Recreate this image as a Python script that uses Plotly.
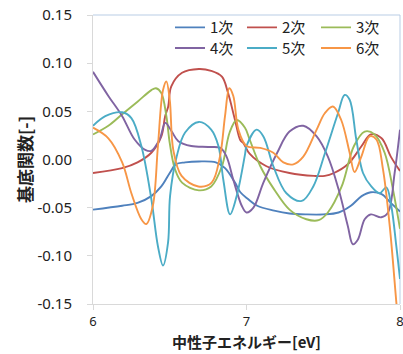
import plotly.graph_objects as go

# ---- data ----
names = ["1次", "2次", "3次", "4次", "5次", "6次"]
colors = ["#4F81BD", "#C0504D", "#9BBB59", "#8064A2", "#4BACC6", "#F79646"]

x1 = [6.00, 6.19, 6.29, 6.38, 6.445, 6.50, 6.54, 6.60, 6.69, 6.80, 6.86, 6.925, 6.96, 7.01, 7.07, 7.18, 7.28, 7.39, 7.50, 7.60, 7.68, 7.75, 7.81, 7.88, 7.94, 8.00]
y1 = [-0.052, -0.048, -0.045, -0.038, -0.028, -0.014, -0.005, -0.003, -0.002, -0.003, -0.009, -0.024, -0.034, -0.041, -0.048, -0.053, -0.056, -0.057, -0.057, -0.055, -0.048, -0.038, -0.034, -0.036, -0.045, -0.054]

x2 = [6.00, 6.19, 6.29, 6.38, 6.445, 6.47, 6.49, 6.51, 6.58, 6.69, 6.77, 6.84, 6.88, 6.925, 6.96, 6.98, 7.02, 7.13, 7.28, 7.44, 7.51, 7.57, 7.66, 7.75, 7.81, 7.88, 7.94, 8.00]
y2 = [-0.014, -0.009, -0.003, 0.007, 0.024, 0.045, 0.055, 0.076, 0.090, 0.094, 0.092, 0.086, 0.069, 0.041, 0.020, 0.017, 0.006, -0.007, -0.014, -0.017, -0.017, -0.014, -0.005, 0.014, 0.026, 0.022, 0.003, -0.012]

x3 = [6.00, 6.10, 6.19, 6.29, 6.38, 6.41, 6.445, 6.478, 6.50, 6.534, 6.58, 6.69, 6.77, 6.84, 6.89, 6.936, 6.99, 7.02, 7.09, 7.18, 7.28, 7.39, 7.47, 7.53, 7.62, 7.70, 7.77, 7.835, 7.90, 7.954, 8.00]
y3 = [0.026, 0.035, 0.047, 0.060, 0.072, 0.074, 0.069, 0.045, 0.017, -0.010, -0.024, -0.032, -0.028, -0.007, 0.028, 0.041, 0.033, 0.021, -0.007, -0.031, -0.052, -0.062, -0.063, -0.055, -0.028, 0.014, 0.029, 0.026, 0.007, -0.031, -0.072]

x4 = [6.00, 6.10, 6.19, 6.27, 6.34, 6.38, 6.434, 6.471, 6.513, 6.556, 6.64, 6.75, 6.83, 6.87, 6.914, 6.969, 7.00, 7.045, 7.11, 7.20, 7.28, 7.37, 7.457, 7.53, 7.60, 7.66, 7.693, 7.726, 7.77, 7.81, 7.878, 7.922, 7.965, 8.00]
y4 = [0.091, 0.066, 0.045, 0.021, 0.010, 0.009, 0.021, 0.038, 0.029, 0.019, 0.014, 0.013, 0.012, 0.003, -0.021, -0.048, -0.055, -0.050, -0.024, 0.007, 0.029, 0.035, 0.024, 0.003, -0.031, -0.069, -0.088, -0.083, -0.062, -0.057, -0.060, -0.055, -0.014, 0.031]

x5 = [6.00, 6.08, 6.19, 6.25, 6.315, 6.38, 6.423, 6.456, 6.489, 6.502, 6.545, 6.60, 6.69, 6.77, 6.817, 6.849, 6.893, 6.936, 6.99, 7.00, 7.066, 7.11, 7.175, 7.26, 7.36, 7.435, 7.51, 7.596, 7.639, 7.672, 7.715, 7.759, 7.813, 7.867, 7.911, 7.943, 7.976, 8.00]
y5 = [0.035, 0.045, 0.049, 0.043, 0.014, -0.041, -0.090, -0.110, -0.086, -0.038, 0.003, 0.028, 0.039, 0.031, 0.014, -0.021, -0.057, -0.038, 0.005, 0.014, 0.031, 0.024, -0.007, -0.035, -0.043, -0.028, 0.006, 0.048, 0.067, 0.062, 0.021, -0.014, -0.028, -0.035, -0.029, -0.048, -0.090, -0.124]

x6 = [6.00, 6.10, 6.19, 6.25, 6.315, 6.347, 6.39, 6.423, 6.456, 6.478, 6.50, 6.523, 6.577, 6.686, 6.773, 6.827, 6.86, 6.888, 6.914, 6.947, 7.00, 7.09, 7.175, 7.24, 7.305, 7.37, 7.457, 7.51, 7.563, 7.617, 7.672, 7.704, 7.748, 7.802, 7.846, 7.889, 7.933, 7.976, 8.00]
y6 = [0.033, 0.022, -0.003, -0.035, -0.062, -0.067, -0.048, 0.014, 0.072, 0.081, 0.062, 0.010, -0.017, -0.028, -0.024, 0.003, 0.045, 0.074, 0.066, 0.031, 0.014, 0.012, 0.007, -0.003, -0.005, 0.003, 0.031, 0.048, 0.055, 0.041, 0.007, -0.013, 0.003, 0.024, 0.021, -0.010, -0.069, -0.148, -0.190]

xs = [x1, x2, x3, x4, x5, x6]
ys = [y1, y2, y3, y4, y5, y6]

x_ticks = [6, 7, 8]
y_ticks = [-0.15, -0.10, -0.05, 0.00, 0.05, 0.10, 0.15]
y_tick_labels = ["-0.15", "-0.10", "-0.05", "0.00", "0.05", "0.10", "0.15"]

x_title = "中性子エネルギー[eV]"
y_title = "基底関数[-]"

txt = "#222222"
axis_gray = "#D9D9D9"

fig = go.Figure()
legend_ids = ["legend", "legend2", "legend3", "legend4", "legend5", "legend6"]
for n, c, xx, yy, lg in zip(names, colors, xs, ys, legend_ids):
    fig.add_trace(go.Scatter(x=xx, y=yy, name=n, mode="lines", legend=lg,
                             line=dict(color=c, width=1.9, shape="spline", smoothing=1.0)))

# legend grid: 3 columns x 2 rows inside the plot area (paper coords)
col_x = [0.2508, 0.4853, 0.7264]
row_y = [0.9562, 0.8852]
legend_layout = {}
for k, lg in enumerate(legend_ids):
    legend_layout[lg] = dict(x=col_x[k % 3], y=row_y[k // 3], xanchor="left", yanchor="middle",
                             bgcolor="rgba(0,0,0,0)", borderwidth=0,
                             font=dict(size=15, color=txt,
                                       family="Noto Sans CJK JP, Noto Sans, sans-serif"))

fig.update_layout(
    width=403, height=354,
    margin=dict(l=93, r=3, t=15, b=50),
    paper_bgcolor="white", plot_bgcolor="white",
    font=dict(family="Noto Sans CJK JP, Noto Sans, sans-serif", color=txt, size=14),
    showlegend=True,
    xaxis=dict(range=[6, 8], tickvals=x_ticks, ticks="outside", ticklen=5,
               tickcolor=axis_gray, showline=True, linecolor=axis_gray, linewidth=1,
               showgrid=False, zeroline=False, ticklabelstandoff=0, automargin=False,
               ticklabeloverflow="allow",
               tickfont=dict(family="Noto Sans, sans-serif", size=13, color=txt)),
    yaxis=dict(range=[-0.15, 0.15], tickvals=y_ticks, ticktext=y_tick_labels,
               ticks="outside", ticklen=5, tickcolor=axis_gray, showline=True,
               linecolor=axis_gray, linewidth=1, showgrid=False, zeroline=False,
               ticklabelstandoff=12, automargin=False,
               tickfont=dict(family="Noto Sans, sans-serif", size=15, color=txt),
               title=dict(text="<b>" + y_title + "</b>", standoff=0,
                          font=dict(size=17, color=txt))),
    **legend_layout,
)
# x-axis title placed below the tick labels
fig.add_annotation(text="<b>" + x_title + "</b>", xref="paper", yref="paper",
                   x=0.5, y=-0.1713, xanchor="center", yanchor="bottom",
                   showarrow=False, font=dict(size=15, color=txt))
# light-blue frame on top and right of plot area
fig.add_shape(type="line", xref="paper", yref="paper", x0=0, x1=1, y0=1, y1=1,
              line=dict(color="#B9CDE5", width=1), layer="below")
fig.add_shape(type="line", xref="paper", yref="paper", x0=1, x1=1, y0=0, y1=1,
              line=dict(color="#B9CDE5", width=1), layer="below")

fig.write_html("out.html")
